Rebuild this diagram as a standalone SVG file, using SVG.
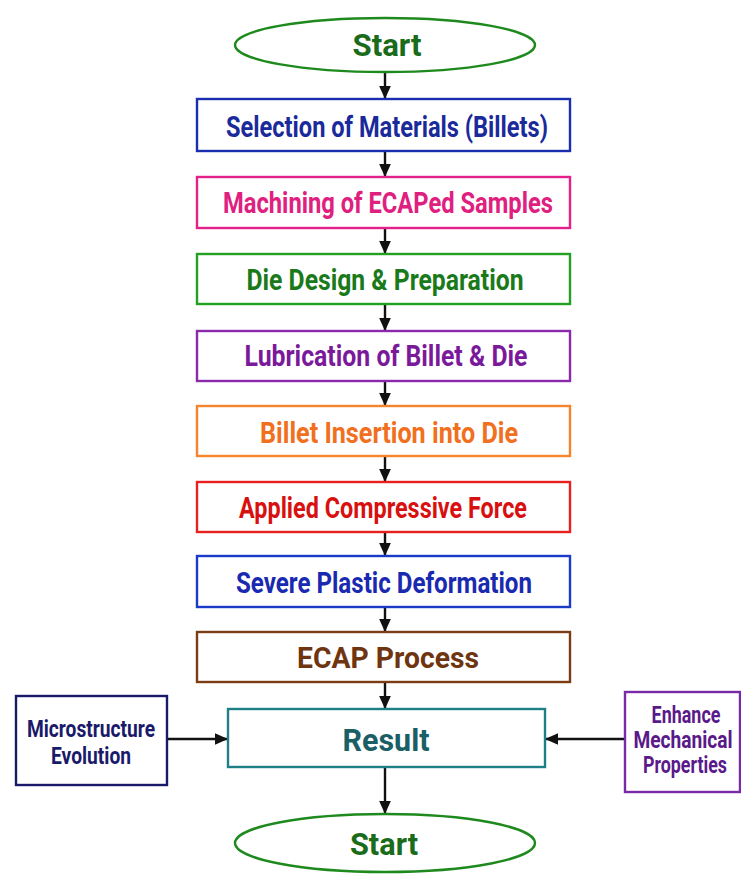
<svg xmlns="http://www.w3.org/2000/svg" width="741" height="878" viewBox="0 0 741 878">
<defs>
<marker id="ah" viewBox="0 0 10 10" refX="10" refY="5" markerWidth="13" markerHeight="13" markerUnits="userSpaceOnUse" orient="auto">
<path d="M0,0.5 L10,5 L0,9.5 z" fill="#111"/>
</marker>
<style>
.box{fill:#fff;stroke-width:2.4}
.t{font-family:"Roboto","Liberation Sans",sans-serif;font-weight:bold;text-anchor:middle}
.m{font-size:29px}
.s{font-size:23px}
.b{font-size:32px}
.c{stroke:#111;stroke-width:2.4;fill:none;marker-end:url(#ah)}
</style>
</defs>
<rect width="741" height="878" fill="#fff"/>
<g id="connectors">
<line class="c" x1="385" y1="73" x2="385" y2="99"/>
<line class="c" x1="385" y1="151" x2="385" y2="177"/>
<line class="c" x1="385" y1="228" x2="385" y2="254"/>
<line class="c" x1="385" y1="304" x2="385" y2="331"/>
<line class="c" x1="385" y1="381" x2="385" y2="406"/>
<line class="c" x1="385" y1="456" x2="385" y2="482"/>
<line class="c" x1="385" y1="532" x2="385" y2="556"/>
<line class="c" x1="385" y1="607" x2="385" y2="632"/>
<line class="c" x1="385" y1="682" x2="385" y2="709"/>
<line class="c" x1="385" y1="767" x2="385" y2="814"/>
<line class="c" x1="168" y1="739" x2="228" y2="739"/>
<line class="c" x1="625" y1="739" x2="545" y2="739"/>
</g>
<g id="start">
<ellipse cx="385" cy="45" rx="150" ry="27" fill="#fff" stroke="#1e8a1e" stroke-width="2.4"/>
<text class="t b" x="387" y="56" fill="#1a6b1a" textLength="69" lengthAdjust="spacingAndGlyphs">Start</text>
</g>
<g id="selection">
<rect class="box" x="197" y="99" width="373" height="52" stroke="#1a2fb0"/>
<text class="t m" x="387" y="137" fill="#1a2a9a" textLength="322" lengthAdjust="spacingAndGlyphs">Selection of Materials (Billets)</text>
</g>
<g id="machining">
<rect class="box" x="197" y="177" width="373" height="51" stroke="#e4208a"/>
<text class="t m" x="388" y="213" fill="#e0207f" textLength="330" lengthAdjust="spacingAndGlyphs">Machining of ECAPed Samples</text>
</g>
<g id="die">
<rect class="box" x="197" y="254" width="373" height="50" stroke="#22a022"/>
<text class="t m" x="385" y="290" fill="#1a7a1a" textLength="277" lengthAdjust="spacingAndGlyphs">Die Design &amp; Preparation</text>
</g>
<g id="lubrication">
<rect class="box" x="197" y="331" width="373" height="50" stroke="#8a2aaa"/>
<text class="t m" x="386" y="366" fill="#7a1a9a" textLength="283" lengthAdjust="spacingAndGlyphs">Lubrication of Billet &amp; Die</text>
</g>
<g id="insertion">
<rect class="box" x="197" y="406" width="373" height="50" stroke="#f5842a"/>
<text class="t m" x="389" y="443" fill="#f07020" textLength="258" lengthAdjust="spacingAndGlyphs">Billet Insertion into Die</text>
</g>
<g id="force">
<rect class="box" x="197" y="482" width="373" height="50" stroke="#e82020"/>
<text class="t m" x="383" y="518" fill="#d81010" textLength="288" lengthAdjust="spacingAndGlyphs">Applied Compressive Force</text>
</g>
<g id="spd">
<rect class="box" x="197" y="556" width="373" height="51" stroke="#1a3ac8"/>
<text class="t m" x="384" y="593" fill="#1a2ab0" textLength="296" lengthAdjust="spacingAndGlyphs">Severe Plastic Deformation</text>
</g>
<g id="ecap">
<rect class="box" x="197" y="632" width="373" height="50" stroke="#7a3d14"/>
<text class="t m" x="388" y="668" fill="#6e3510" textLength="182" lengthAdjust="spacingAndGlyphs">ECAP  Process</text>
</g>
<g id="result">
<rect class="box" x="228" y="709" width="317" height="58" stroke="#1f7f86"/>
<text class="t b" x="386" y="751" fill="#1a5e66" textLength="87" lengthAdjust="spacingAndGlyphs">Result</text>
</g>
<g id="microstructure">
<rect class="box" x="16" y="696" width="151" height="89" stroke="#1a1a6a"/>
<text class="t s" x="91" y="737" fill="#1a1a6a" textLength="128" lengthAdjust="spacingAndGlyphs">Microstructure</text>
<text class="t s" x="91" y="764" fill="#1a1a6a" textLength="80" lengthAdjust="spacingAndGlyphs">Evolution</text>
</g>
<g id="enhance">
<rect class="box" x="625" y="692" width="115" height="100" stroke="#7a2aa8"/>
<text class="t s" transform="translate(686,723) scale(0.8,1)" x="0" y="0" fill="#5a1a8a" textLength="86" lengthAdjust="spacingAndGlyphs">Enhance</text>
<text class="t s" transform="translate(683,748) scale(0.8,1)" x="0" y="0" fill="#5a1a8a" textLength="124" lengthAdjust="spacingAndGlyphs">Mechanical</text>
<text class="t s" transform="translate(685,773) scale(0.8,1)" x="0" y="0" fill="#5a1a8a" textLength="105" lengthAdjust="spacingAndGlyphs">Properties</text>
</g>
<g id="end">
<ellipse cx="385" cy="843" rx="150" ry="29" fill="#fff" stroke="#1e8a1e" stroke-width="2.4"/>
<text class="t b" x="384" y="855" fill="#1a6b1a" textLength="68" lengthAdjust="spacingAndGlyphs">Start</text>
</g>
</svg>
